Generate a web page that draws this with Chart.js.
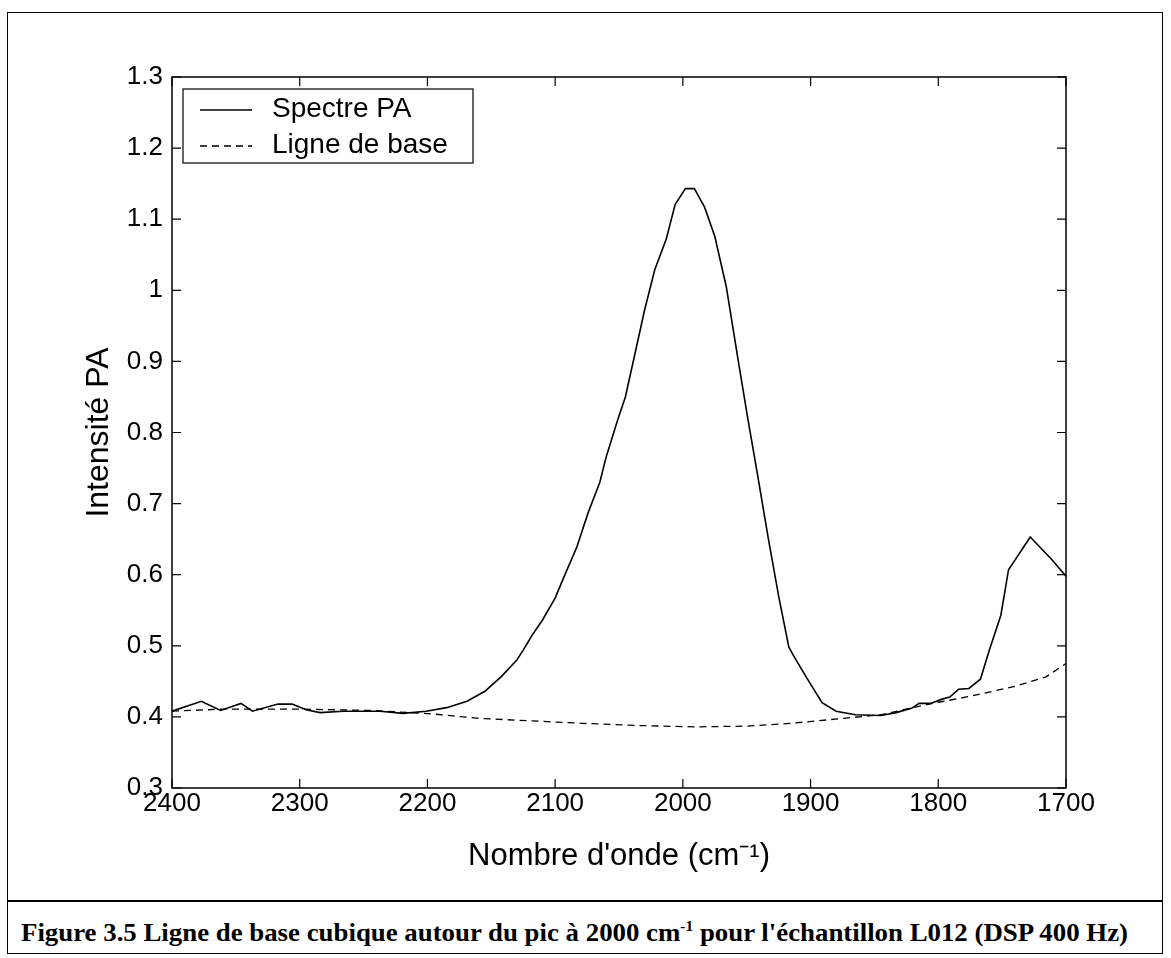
<!DOCTYPE html>
<html>
<head>
<meta charset="utf-8">
<script src="https://cdn.jsdelivr.net/npm/chart.js@4.4.0/dist/chart.umd.min.js"></script>
<style>
  html, body { margin: 0; padding: 0; background: #fff; }
  #frame { position: absolute; left: 7px; top: 12px; width: 1156px; height: 942px; border: 1px solid #000; box-sizing: border-box; }
  #sep { position: absolute; left: 7px; top: 900px; width: 1156px; height: 2px; background: #000; }
  #chart { position: absolute; left: 0; top: 0; }
  #caption { position: absolute; left: 21px; top: 918px; font: bold 26px "Liberation Serif", "Times New Roman", serif; line-height: 30px; white-space: nowrap; transform-origin: left top; color: #000; }
  #caption sup { font-size: 15px; vertical-align: 10px; line-height: 0; }
</style>
</head>
<body>
<div id="frame"></div>
<div id="sep"></div>
<canvas id="chart" width="1171" height="900"></canvas>
<div id="caption">Figure 3.5 Ligne de base cubique autour du pic à 2000 cm<sup>-1</sup> pour l'échantillon L012 (DSP 400 Hz)</div>
<script>
// spectre PA
const spectreWavenumbers = [2400, 2377, 2362, 2346, 2337, 2317, 2306, 2295, 2284, 2266, 2237, 2219, 2201, 2185, 2169, 2155, 2142, 2130, 2125, 2118, 2110, 2100, 2094, 2083, 2074, 2065, 2060, 2051, 2045, 2037, 2030, 2022, 2013, 2006, 1998, 1991, 1983, 1975, 1966, 1957, 1949, 1941, 1933, 1925, 1917, 1913, 1903, 1891, 1880, 1865, 1845, 1833, 1821, 1815, 1806, 1797, 1791, 1784, 1776, 1767, 1760, 1751, 1745, 1728, 1711, 1700];
const spectreValues = [0.408, 0.422, 0.409, 0.419, 0.408, 0.418, 0.418, 0.410, 0.406, 0.408, 0.408, 0.405, 0.408, 0.413, 0.422, 0.436, 0.457, 0.480, 0.494, 0.515, 0.536, 0.567, 0.593, 0.639, 0.688, 0.730, 0.766, 0.818, 0.850, 0.915, 0.972, 1.029, 1.072, 1.121, 1.143, 1.143, 1.117, 1.076, 1.005, 0.905, 0.818, 0.735, 0.650, 0.570, 0.498, 0.485, 0.455, 0.420, 0.408, 0.403, 0.402, 0.406, 0.412, 0.419, 0.419, 0.425, 0.428, 0.439, 0.440, 0.453, 0.494, 0.543, 0.607, 0.653, 0.621, 0.598];

// ligne de base cubique
const baseWavenumbers = [2400, 2359, 2301, 2242, 2195, 2160, 2137, 2079, 2038, 1991, 1950, 1915, 1874, 1845, 1810, 1775, 1740, 1716, 1700];
const baseValues = [0.408, 0.411, 0.411, 0.409, 0.404, 0.398, 0.396, 0.391, 0.388, 0.386, 0.387, 0.391, 0.398, 0.403, 0.417, 0.429, 0.443, 0.456, 0.475];

const xTicks = { min: 1700, max: 2400, step: 100 };
const yTicks = { min: 0.3, max: 1.3, step: 0.1 };
const legendLabels = ['Spectre PA', 'Ligne de base'];

const FONT = "'Liberation Sans', Arial, Helvetica, sans-serif";
const TICK = 9;
const DASH = [7, 5];

const toPoints = (xs, ys) => xs.map((x, i) => ({ x: x, y: ys[i] }));

// MATLAB-like box: frame, inward ticks on the four sides, framed legend
const matlabAxes = {
  id: 'matlabAxes',
  afterDraw(chart) {
    const { ctx, chartArea: a, scales: { x, y } } = chart;
    ctx.save();
    ctx.strokeStyle = '#000';
    ctx.setLineDash([]);
    ctx.lineWidth = 1.5;
    ctx.strokeRect(a.left, a.top, a.right - a.left, a.bottom - a.top);

    ctx.lineWidth = 1.2;
    ctx.beginPath();
    x.ticks.forEach(t => {
      const px = x.getPixelForValue(t.value);
      ctx.moveTo(px, a.bottom); ctx.lineTo(px, a.bottom - TICK);
      ctx.moveTo(px, a.top); ctx.lineTo(px, a.top + TICK);
    });
    y.ticks.forEach(t => {
      const py = y.getPixelForValue(t.value);
      ctx.moveTo(a.left, py); ctx.lineTo(a.left + TICK, py);
      ctx.moveTo(a.right, py); ctx.lineTo(a.right - TICK, py);
    });
    ctx.stroke();

    // legend
    const bx = a.left + 11, by = a.top + 12, bw = 290, bh = 74;
    ctx.fillStyle = '#fff';
    ctx.fillRect(bx, by, bw, bh);
    ctx.lineWidth = 1.2;
    ctx.strokeRect(bx, by, bw, bh);
    ctx.font = '28px ' + FONT;
    ctx.fillStyle = '#000';
    ctx.textBaseline = 'middle';
    chart.data.datasets.forEach((ds, i) => {
      const cy = by + 20 + i * 36;
      ctx.lineWidth = ds.borderWidth;
      ctx.setLineDash(ds.borderDash || []);
      ctx.beginPath();
      ctx.moveTo(bx + 17, cy + 1);
      ctx.lineTo(bx + 69, cy + 1);
      ctx.stroke();
      ctx.setLineDash([]);
      ctx.fillText(legendLabels[i], bx + 89, cy);
    });
    ctx.restore();
  }
};

const ctx = document.getElementById('chart').getContext('2d');
new Chart(ctx, {
  type: 'line',
  data: {
    datasets: [
      {
        label: legendLabels[0],
        data: toPoints(spectreWavenumbers, spectreValues),
        borderColor: '#000',
        borderWidth: 1.6,
        pointRadius: 0,
        tension: 0,
        fill: false,
      },
      {
        label: legendLabels[1],
        data: toPoints(baseWavenumbers, baseValues),
        borderColor: '#000',
        borderWidth: 1.3,
        borderDash: DASH,
        pointRadius: 0,
        tension: 0,
        fill: false,
      },
    ],
  },
  options: {
    responsive: false,
    animation: false,
    devicePixelRatio: 1,
    layout: { padding: { top: 77, right: 105, left: 0, bottom: 0 } },
    plugins: {
      legend: { display: false },
      tooltip: { enabled: false },
    },
    scales: {
      x: {
        type: 'linear',
        reverse: true,
        min: xTicks.min,
        max: xTicks.max,
        grid: { display: false, drawTicks: false },
        border: { display: false },
        ticks: {
          stepSize: xTicks.step,
          autoSkip: false,
          maxRotation: 0,
          padding: 0,
          color: '#000',
          font: { family: FONT, size: 26 },
          callback: v => String(v),
        },
        title: {
          display: true,
          text: "Nombre d'onde (cm\u207B\u00B9)",
          color: '#000',
          font: { family: FONT, size: 31 },
          padding: { top: 0, bottom: 25 },
        },
        afterFit: s => { s.height = 112; },
      },
      y: {
        min: yTicks.min,
        max: yTicks.max,
        grid: { display: false, drawTicks: false },
        border: { display: false },
        ticks: {
          stepSize: yTicks.step,
          padding: 9,
          color: '#000',
          font: { family: FONT, size: 26 },
          callback: v => String(+v.toFixed(1)),
        },
        title: {
          display: true,
          text: 'Intensité PA',
          color: '#000',
          font: { family: FONT, size: 32 },
          padding: { top: 80, bottom: 0 },
        },
        afterFit: s => { s.width = 172; },
      },
    },
  },
  plugins: [matlabAxes],
});

// squeeze the caption to the width it has in the figure
function fitCaption() {
  const cap = document.getElementById('caption');
  cap.style.transform = 'none';
  const w = cap.getBoundingClientRect().width;
  cap.style.transform = 'scaleX(' + (1107 / w) + ')';
}
fitCaption();
document.fonts.ready.then(fitCaption);
</script>
</body>
</html>
